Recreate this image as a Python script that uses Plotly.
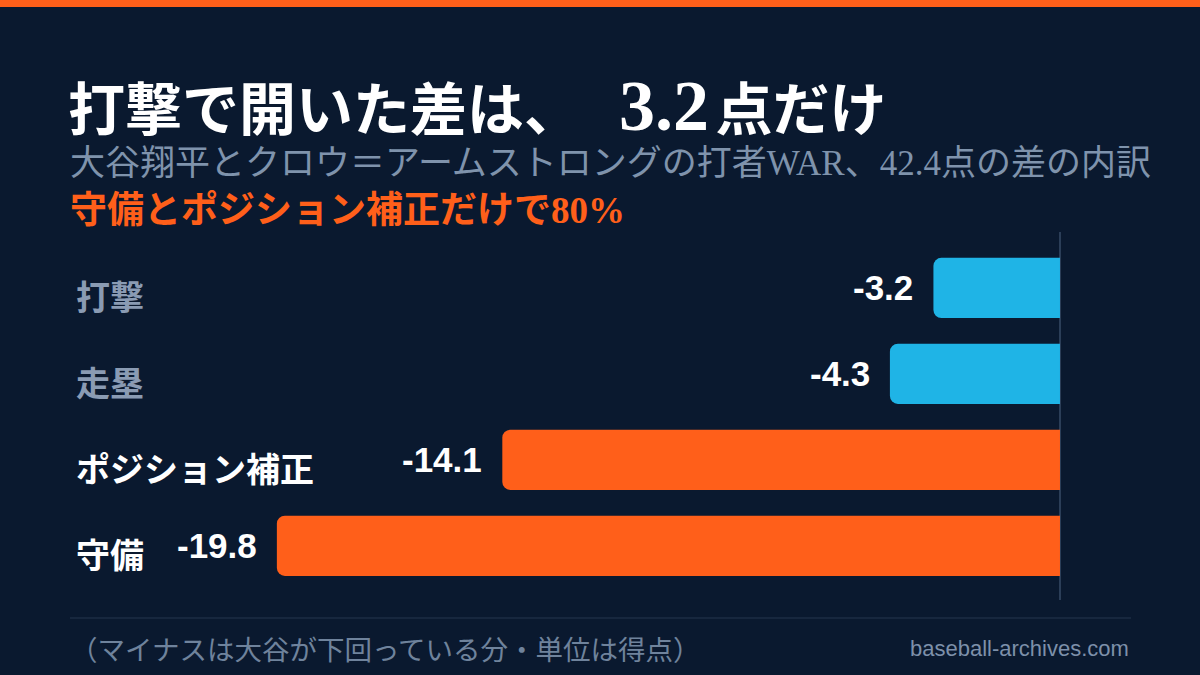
import plotly.graph_objects as go

# 打者WAR差の内訳（大谷 - クロウ＝アームストロング）
categories = ["打撃", "走塁", "ポジション補正", "守備"]
values = [-3.2, -4.3, -14.1, -19.8]
bar_colors = ["#1fb4e6", "#1fb4e6", "#ff5f1a", "#ff5f1a"]
label_colors = ["#8a9bb3", "#8a9bb3", "#ffffff", "#ffffff"]

title_text = ("打撃で開いた差は、<span style='font-size:76px'>&nbsp;&nbsp;</span>"
              "<span style='font-size:72px'>3.2</span><span style='font-size:26px'>&nbsp;</span>点だけ")
subtitle_text = "大谷翔平とクロウ＝アームストロングの打者WAR、42.4点の差の内訳"
highlight_text = "守備とポジション補正だけで80%"
note_text = "（マイナスは大谷が下回っている分・単位は得点）"
source_text = "baseball-archives.com"

BG = "#0a192f"
ORANGE = "#ff5f1a"
SERIF = "Liberation Serif, Noto Sans CJK JP, serif"
SANS = "Liberation Sans, Arial, sans-serif"
H = 675

fig = go.Figure()
fig.add_trace(go.Bar(
    x=values, y=categories, orientation="h",
    marker=dict(color=bar_colors, cornerradius=8, line=dict(width=0)),
    width=0.7, hoverinfo="skip",
))

annotations = []
# category labels on the left
for cat, col in zip(categories, label_colors):
    annotations.append(dict(
        x=74 / 1200, xref="paper", y=cat, yref="y", xanchor="left", yanchor="middle",
        text="<b>%s</b>" % cat, showarrow=False, yshift=-11,
        font=dict(family=SERIF, size=34, color=col),
    ))
# value labels left of each bar
for cat, v in zip(categories, values):
    annotations.append(dict(
        x=v, y=cat, xref="x", yref="y", xanchor="right", yanchor="middle",
        text="<b>%.1f</b>" % v, showarrow=False, xshift=-18, yshift=0,
        font=dict(family=SANS, size=35, color="#ffffff"),
    ))

def head(text, y_px, size, color, bold=False, family=SERIF, x_px=72, anchor="left"):
    return dict(
        x=x_px / 1200, y=1 - y_px / H, xref="paper", yref="paper",
        xanchor=anchor, yanchor="middle", showarrow=False,
        text="<b>%s</b>" % text if bold else text,
        font=dict(family=family, size=size, color=color),
    )

annotations += [
    head(title_text, 104, 57, "#ffffff", bold=True, x_px=66),
    head(subtitle_text, 163, 35, "#7f93ac", x_px=68),
    head(highlight_text, 210, 37, ORANGE, bold=True, x_px=68),
    head(note_text, 650, 27.5, "#6f839c", x_px=68),
    head(source_text, 648, 22, "#7d90aa", family=SANS, x_px=1131, anchor="right"),
]

shapes = [
    # orange strip on top
    dict(type="rect", xref="paper", yref="paper", x0=0, x1=1, y0=1 - 7 / H, y1=1,
         fillcolor=ORANGE, line=dict(width=0), layer="above"),
    # footer separator
    dict(type="line", xref="paper", yref="paper", x0=70 / 1200, x1=1131 / 1200,
         y0=1 - 618 / H, y1=1 - 618 / H, line=dict(color="#24364e", width=1)),
]

fig.update_layout(
    width=1200, height=675,
    paper_bgcolor=BG, plot_bgcolor=BG,
    margin=dict(l=0, r=0, t=0, b=0),
    showlegend=False,
    annotations=annotations,
    shapes=shapes,
    xaxis=dict(range=[-26.8, 3.54], showgrid=False, showticklabels=False,
               zeroline=True, zerolinecolor="#2b3e58", zerolinewidth=2, fixedrange=True),
    yaxis=dict(categoryorder="array", categoryarray=categories,
               range=[3.63, -0.65], domain=[75 / H, 443 / H],
               showgrid=False, showticklabels=False, zeroline=False, fixedrange=True),
)

fig.write_html("out.html", config={"displayModeBar": False},
               post_script="document.body.style.margin='0';document.body.style.background='%s';" % BG)
